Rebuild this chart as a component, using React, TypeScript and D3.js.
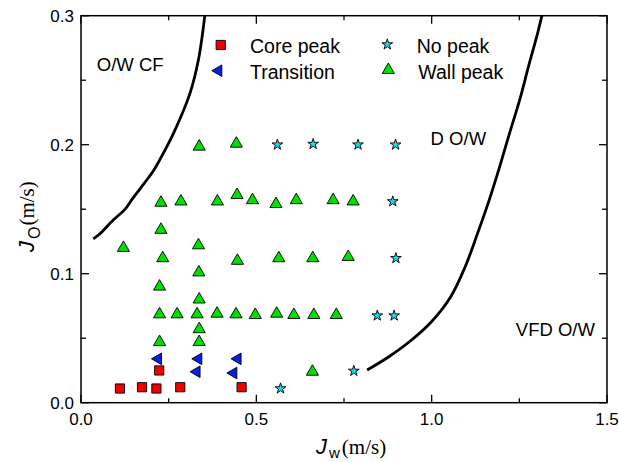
import React from 'react';
import * as d3 from 'd3';

type P = [number, number];

const corePeak: P[] = [[0.111, 0.011], [0.174, 0.012], [0.215, 0.011], [0.283, 0.012], [0.458, 0.012], [0.223, 0.025]];
const transition: P[] = [[0.22, 0.034], [0.335, 0.034], [0.447, 0.034], [0.33, 0.024], [0.435, 0.023]];
const noPeak: P[] = [[0.56, 0.2], [0.662, 0.2005], [0.79, 0.2], [0.897, 0.2], [0.889, 0.156], [0.898, 0.112], [0.845, 0.0675], [0.893, 0.0675], [0.778, 0.0246], [0.569, 0.011]];
const wallPeak: P[] = [
  [0.337, 0.1985], [0.443, 0.2008],
  [0.228, 0.155], [0.285, 0.156], [0.389, 0.156], [0.445, 0.161], [0.489, 0.157], [0.556, 0.154], [0.614, 0.157], [0.719, 0.157], [0.776, 0.156],
  [0.228, 0.134],
  [0.121, 0.12], [0.335, 0.122],
  [0.233, 0.112], [0.446, 0.11], [0.564, 0.112], [0.661, 0.112], [0.762, 0.113],
  [0.336, 0.101],
  [0.224, 0.09],
  [0.337, 0.08],
  [0.224, 0.0685], [0.274, 0.0685], [0.331, 0.0685], [0.388, 0.069], [0.442, 0.0685], [0.497, 0.068], [0.558, 0.069], [0.607, 0.068], [0.664, 0.068], [0.728, 0.068],
  [0.337, 0.057],
  [0.224, 0.047], [0.337, 0.047],
  [0.66, 0.024],
];
const boundaryCF: P[] = [[0.035, 0.127], [0.054, 0.131], [0.092, 0.1416], [0.126, 0.15], [0.149, 0.159], [0.169, 0.166], [0.207, 0.18], [0.226, 0.189], [0.264, 0.209], [0.311, 0.24], [0.335, 0.266], [0.354, 0.302]];
const boundaryVFD: P[] = [[0.816, 0.0253], [0.88, 0.036], [0.94, 0.048], [1.0, 0.063], [1.054, 0.082], [1.095, 0.105], [1.131, 0.1313], [1.164, 0.157], [1.194, 0.183], [1.222, 0.2088], [1.251, 0.2347], [1.276, 0.2605], [1.302, 0.2863], [1.316, 0.302]];

const xMajor = [0, 0.5, 1.0, 1.5];
const xMinor = [0.25, 0.75, 1.25];
const yMajor = [0, 0.1, 0.2, 0.3];
const yMinor = [0.05, 0.15, 0.25];

const regionLabels: { text: string; x: number; y: number }[] = [
  { text: 'O/W CF', x: 0.045, y: 0.257 },
  { text: 'D O/W', x: 0.997, y: 0.2 },
  { text: 'VFD O/W', x: 1.24, y: 0.052 },
];

const W = 619, H = 462;
const L = 81, R = 607, T = 15.7, B = 402.7;
const SANS = "'Liberation Sans', Arial, sans-serif";
const SERIF = "'Liberation Serif', 'Times New Roman', serif";

const x = d3.scaleLinear().domain([0, 1.5]).range([L, R]);
const y = d3.scaleLinear().domain([0, 0.3]).range([B, T]);

const sq = d3.symbol().type(d3.symbolSquare).size(85)()!;
const tri = d3.symbol().type(d3.symbolTriangle).size(64)()!;
const ltri = d3.symbol().type(d3.symbolTriangle).size(58)()!;
const star = d3.symbol().type(d3.symbolStar).size(36)()!;

const line = d3.line<P>().x(d => x(d[0])).y(d => y(d[1])).curve(d3.curveCatmullRom.alpha(0.5));

const fmt = d3.format('.1f');

export default function App() {
  const tick = (k: string, x1: number, y1: number, x2: number, y2: number) => (
    <line key={k} x1={x1} y1={y1} x2={x2} y2={y2} stroke="#000" strokeWidth={1.3} />
  );
  const ticks: React.ReactNode[] = [];
  xMajor.forEach((v, i) => {
    ticks.push(tick('xb' + i, x(v), B, x(v), B - 8));
    ticks.push(tick('xt' + i, x(v), T, x(v), T + 8));
  });
  xMinor.forEach((v, i) => {
    ticks.push(tick('xbm' + i, x(v), B, x(v), B - 4.5));
    ticks.push(tick('xtm' + i, x(v), T, x(v), T + 4.5));
  });
  yMajor.forEach((v, i) => {
    ticks.push(tick('yl' + i, L, y(v), L + 8, y(v)));
    ticks.push(tick('yr' + i, R, y(v), R - 8, y(v)));
  });
  yMinor.forEach((v, i) => {
    ticks.push(tick('ylm' + i, L, y(v), L + 5, y(v)));
    ticks.push(tick('yrm' + i, R, y(v), R - 5, y(v)));
  });

  return (
    <svg width={W} height={H} style={{ position: 'absolute', left: 0, top: 0, background: '#fff' }}>
      <defs>
        <clipPath id="plot">
          <rect x={L} y={T} width={R - L} height={B - T} />
        </clipPath>
      </defs>
      <rect x={0} y={0} width={W} height={H} fill="#fff" />
      <g clipPath="url(#plot)" fill="none" stroke="#000" strokeWidth={2.8}>
        <path d={line(boundaryCF)!} />
        <path d={line(boundaryVFD)!} />
      </g>
      <rect x={L} y={T} width={R - L} height={B - T} fill="none" stroke="#000" strokeWidth={1.5} />
      {ticks}
      {xMajor.map((v, i) => (
        <text key={'xl' + i} x={x(v)} y={424.5} textAnchor="middle" fontFamily={SANS} fontSize={17}>{fmt(v)}</text>
      ))}
      {yMajor.map((v, i) => (
        <text key={'yl' + i} x={74} y={y(v) + 6.2} textAnchor="end" fontFamily={SANS} fontSize={17}>{fmt(v)}</text>
      ))}
      {/* x axis title */}
      <text x={316} y={453.5} fontSize={21}>
        <tspan fontFamily={SANS} fontStyle="italic" fontSize={22}>J</tspan>
        <tspan fontFamily={SANS} fontSize={15} dx={2} dy={4}>w</tspan>
        <tspan fontFamily={SERIF} dx={2} dy={-4}>(m/s)</tspan>
      </text>
      {/* y axis title */}
      <text transform="translate(34,252) rotate(-90)" fontSize={21}>
        <tspan fontFamily={SANS} fontStyle="italic" fontSize={22}>J</tspan>
        <tspan fontFamily={SANS} fontSize={16} dx={2} dy={5.5}>O</tspan>
        <tspan fontFamily={SERIF} dx={1} dy={-5.5}>(m/s)</tspan>
      </text>
      {regionLabels.map((r, i) => (
        <text key={'rl' + i} x={x(r.x)} y={y(r.y)} fontFamily={SANS} fontSize={18.5}>{r.text}</text>
      ))}
      <g stroke="#000" strokeWidth={0.9}>
        {wallPeak.map((d, i) => (
          <path key={'w' + i} d={tri} transform={`translate(${x(d[0])},${y(d[1])})`} fill="#00e000" />
        ))}
        {corePeak.map((d, i) => (
          <path key={'c' + i} d={sq} transform={`translate(${x(d[0])},${y(d[1])})`} fill="#f00000" />
        ))}
        {transition.map((d, i) => (
          <path key={'t' + i} d={ltri} transform={`translate(${x(d[0])},${y(d[1])}) rotate(-90)`} fill="#0a1ee6" />
        ))}
        {noPeak.map((d, i) => (
          <path key={'n' + i} d={star} transform={`translate(${x(d[0])},${y(d[1])})`} fill="#18d8e8" />
        ))}
        {/* legend */}
        <path d={sq} transform="translate(220.7,45)" fill="#f00000" />
        <path d={ltri} transform="translate(218.5,70.7) rotate(-90)" fill="#0a1ee6" />
        <path d={star} transform="translate(387.3,44.5)" fill="#18d8e8" />
        <path d={tri} transform="translate(388.3,70)" fill="#00e000" />
      </g>
      <g fontFamily={SANS} fontSize={19.5}>
        <text x={250} y={52.7}>Core peak</text>
        <text x={250} y={78.5}>Transition</text>
        <text x={416.7} y={52.7}>No peak</text>
        <text x={418.3} y={78.5}>Wall peak</text>
      </g>
    </svg>
  );
}
